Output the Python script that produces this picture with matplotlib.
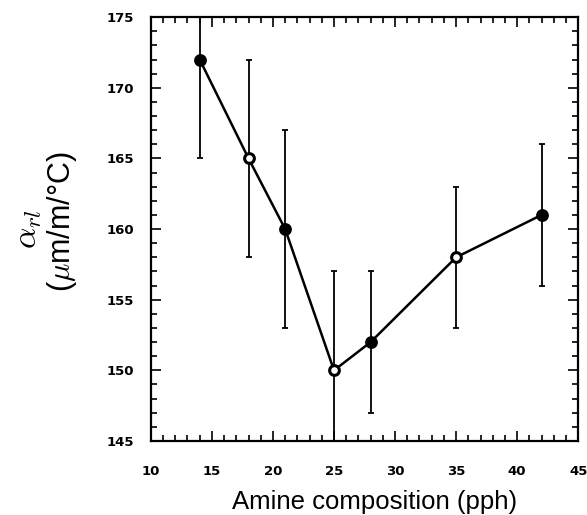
import numpy as np
import matplotlib
matplotlib.use('Agg')
import matplotlib.pyplot as plt
from matplotlib.ticker import MultipleLocator

# amine content vs relaxed CTE
amine = [14, 18, 21, 25, 28, 35, 42]
alpha = [172, 165, 160, 150, 152, 158, 161]
err = [7, 7, 7, 7, 5, 5, 5]
hollow = [False, True, False, True, False, True, False]

plt.rcParams['font.family'] = ['Liberation Sans', 'DejaVu Sans']
plt.rcParams['mathtext.fontset'] = 'cm'

fig = plt.figure(figsize=(5.87, 5.15), dpi=100)
ax = fig.add_axes([0.257, 0.1437, 0.728, 0.823])

ax.errorbar(amine, alpha, yerr=err, fmt='none', ecolor='black',
            elinewidth=1.3, capsize=2.5, capthick=1.3)
ax.plot(amine, alpha, color='black', lw=1.8, zorder=3)
for xi, yi, h in zip(amine, alpha, hollow):
    ax.plot(xi, yi, 'o', ms=7, mec='black', mew=2.2,
            mfc='white' if h else 'black', zorder=4)

ax.set_xlim(10, 45)
ax.set_ylim(145, 175)
ax.xaxis.set_major_locator(MultipleLocator(5))
ax.xaxis.set_minor_locator(MultipleLocator(1))
ax.yaxis.set_major_locator(MultipleLocator(5))
ax.yaxis.set_minor_locator(MultipleLocator(1))
ax.tick_params(which='both', direction='in', top=True, right=True, width=1.2)
ax.tick_params(which='major', length=7, labelsize=9.5)
ax.tick_params(axis='x', which='major', pad=17)
ax.tick_params(axis='y', which='major', pad=12)
ax.tick_params(which='minor', length=4)
for lab in ax.get_xticklabels() + ax.get_yticklabels():
    lab.set_fontweight('bold')
    lab.set_family('DejaVu Sans')
for sp in ax.spines.values():
    sp.set_linewidth(1.6)

ax.set_xlabel('Amine composition (pph)', fontsize=18.5, labelpad=9)
ax.xaxis.label.set_x(0.523)
fig.text(0.048, 0.555, '$\\alpha_{rl}$', fontsize=24, rotation=90,
         ha='center', va='center')
fig.text(0.106, 0.570, '($\\mu$m/m/°C)', fontsize=22, rotation=90,
         ha='center', va='center')

fig.savefig('out.png', dpi=100)
